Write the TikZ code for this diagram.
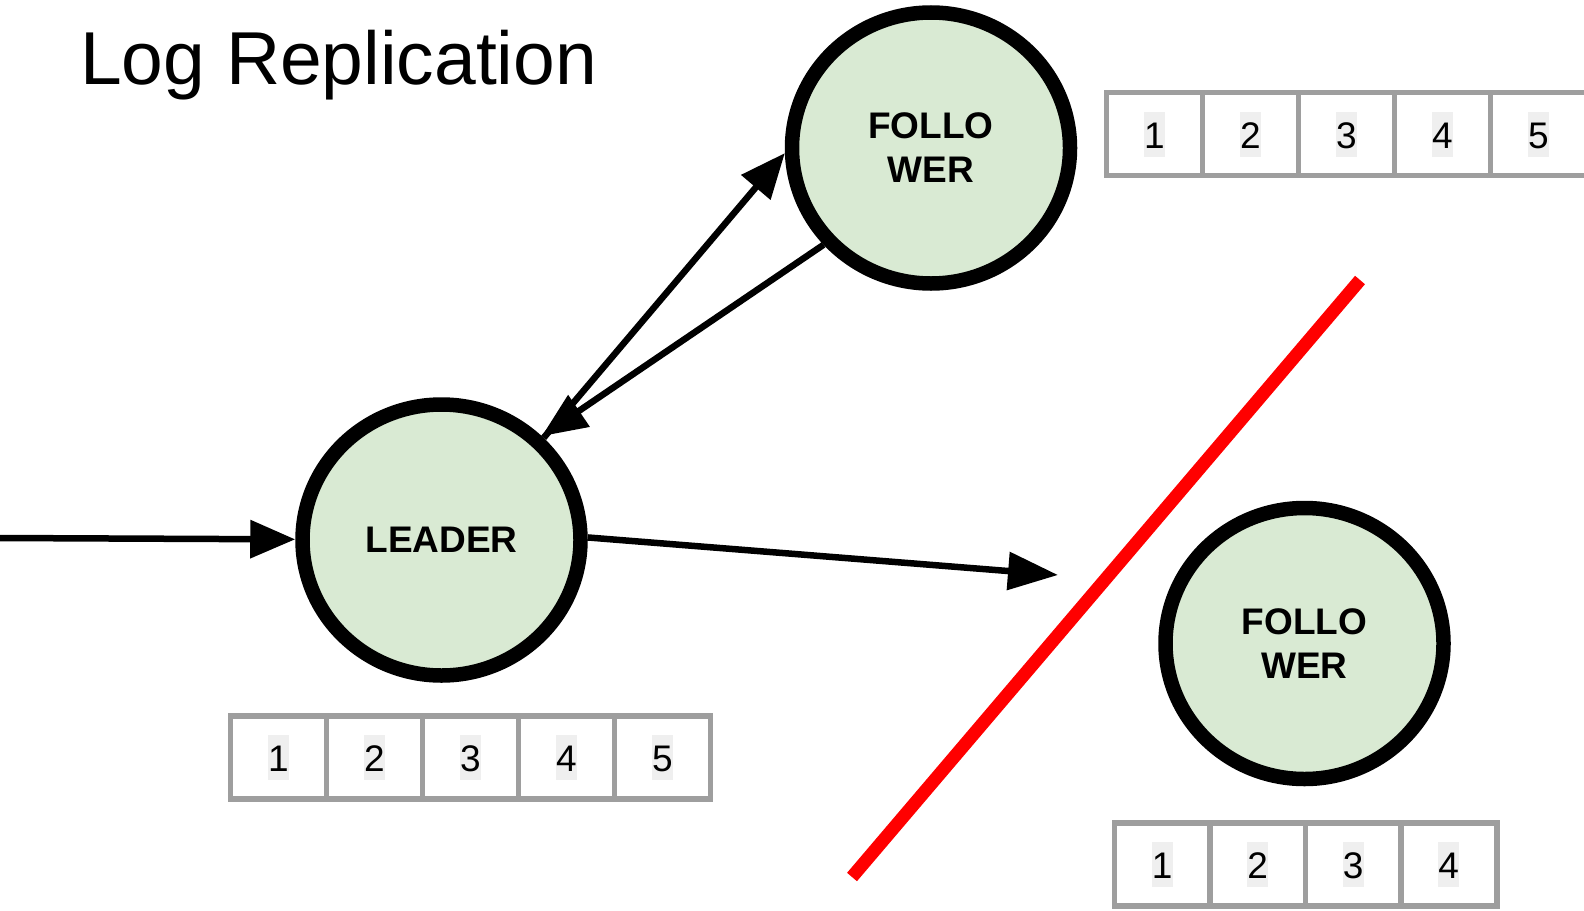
\documentclass[tikz,border=0pt]{standalone}
\usepackage{fontspec}
\setmainfont{Liberation Sans}
\usetikzlibrary{arrows.meta,shapes.geometric}

\definecolor{nodefill}{HTML}{D9EAD3}
\definecolor{logborder}{HTML}{9E9E9E}
\definecolor{hl}{HTML}{EFEFEF}
\definecolor{cut}{HTML}{FF0000}

\tikzset{
  server/.style={ellipse, draw=black, line width=14.5pt, fill=nodefill,
    minimum width=278pt, minimum height=271pt, inner sep=0pt,
    font=\bfseries\fontsize{37}{44}\selectfont, align=center},
  arr/.style={line width=6.5pt, -{Triangle[length=45pt,width=37pt]}},
  longarr/.style={line width=6.5pt, -{Triangle[length=50pt,width=37pt]}},
  cell/.style={rectangle, draw=logborder, fill=white, line width=5.5pt,
    minimum width=96pt, minimum height=83pt, inner sep=0pt, outer sep=0pt},
  digit/.style={fill=hl, inner sep=0pt, text height=36.5pt, text depth=8.5pt,
    font=\fontsize{37}{44}\selectfont},
  partition/.style={draw=cut, line width=13pt, line cap=butt},
}

\begin{document}
\begin{tikzpicture}[x=1pt,y=-1pt]
\useasboundingbox (0,0) rectangle (1584,910);
\clip (0,0) rectangle (1584,910);

% title
\node[anchor=base west, inner sep=0pt, font=\fontsize{75}{90}\selectfont] (title) at (80,84) {Log Replication};

% servers
\node[server] (leader) at (441.5,540) {LEADER};
\node[server] (f1) at (931,148) {FOLLO\\WER};
\node[server] (f2) at (1304.5,643.5) {FOLLO\\WER};

% logs
\foreach \i in {1,...,5} {
  \node[cell] (L\i) at ({278.5+96*(\i-1)},757.5) {};
  \node[digit] at (L\i) {\i};
}
\foreach \i in {1,...,5} {
  \node[cell] (A\i) at ({1154.5+96*(\i-1)},134) {};
  \node[digit] at (A\i) {\i};
}
\foreach \i in {1,...,4} {
  \node[cell] (B\i) at ({1162.25+95.5*(\i-1)},864.5) {};
  \node[digit] at (B\i) {\i};
}

% network partition
\coordinate (cutA) at (852,877);
\coordinate (cutB) at (1360,280);
\draw[partition] (cutA) -- (cutB);

% messages
\coordinate (client) at (0,538);
\coordinate (lost) at (1058,575);
\draw[arr] (client) -- (leader);
\draw[arr] (leader.45) -- (f1.182);
\draw[arr] (f1.222) -- (leader.46);
\draw[longarr] (leader.1) -- (lost);
\end{tikzpicture}
\end{document}
